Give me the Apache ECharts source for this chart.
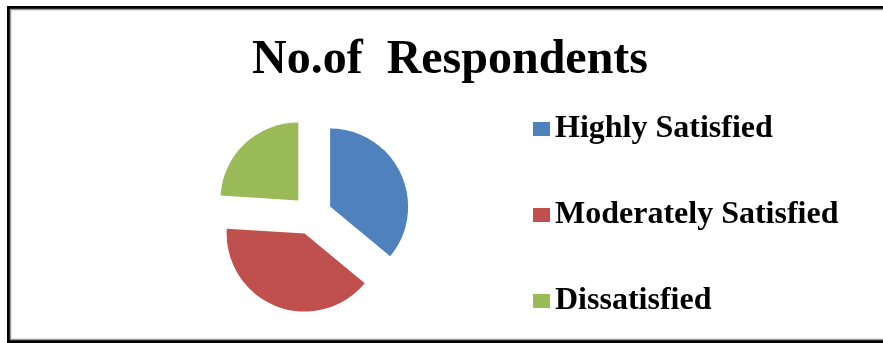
<!DOCTYPE html>
<html>
<head>
<meta charset="utf-8">
<script src="https://cdn.jsdelivr.net/npm/echarts@6/dist/echarts.min.js"></script>
<style>
html,body{margin:0;padding:0;background:#fff;}
#chart{width:883px;height:343px;}
</style>
</head>
<body>
<div id="chart"></div>
<script>
const titleText = 'No.of  Respondents';
const categories = ['Highly Satisfied', 'Moderately Satisfied', 'Dissatisfied'];
const respondents = [36, 40, 24];
const colors = ['#4F81BD', '#C0504D', '#9BBB59'];

const chart = echarts.init(document.getElementById('chart'), null, {renderer: 'canvas'});
const serif = '"Liberation Serif", "Times New Roman", serif';
chart.setOption({
  animation: false,
  backgroundColor: '#fff',
  title: {
    text: titleText,
    left: 450,
    textAlign: 'center',
    top: 37,
    padding: 0,
    textStyle: {fontFamily: serif, fontWeight: 'bold', fontSize: 48, color: '#000'}
  },
  legend: {
    orient: 'vertical',
    left: 533,
    top: 113,
    padding: 0,
    itemWidth: 17,
    itemHeight: 14,
    itemGap: 54,
    itemStyle: {borderWidth: 0},
    icon: 'rect',
    selectedMode: false,
    data: categories,
    textStyle: {fontFamily: serif, fontWeight: 'bold', fontSize: 32, lineHeight: 32, color: '#000'}
  },
  graphic: [
    {type: 'rect', shape: {x: 8.5, y: 7.5, width: 900, height: 334}, style: {fill: 'none', stroke: '#000', lineWidth: 3}, silent: true},
    {type: 'rect', shape: {x: 10.5, y: 9.5, width: 900, height: 330}, style: {fill: 'none', stroke: '#999', lineWidth: 1.5}, silent: true}
  ],
  series: [{
    type: 'pie',
    center: [312, 215],
    radius: 78,
    startAngle: 90,
    clockwise: true,
    selectedMode: 'multiple',
    selectedOffset: 20,
    label: {show: false},
    labelLine: {show: false},
    emphasis: {disabled: true},
    itemStyle: {borderWidth: 0},
    data: categories.map((c, i) => ({name: c, value: respondents[i], selected: true, itemStyle: {color: colors[i]}}))
  }]
});
</script>
</body>
</html>
